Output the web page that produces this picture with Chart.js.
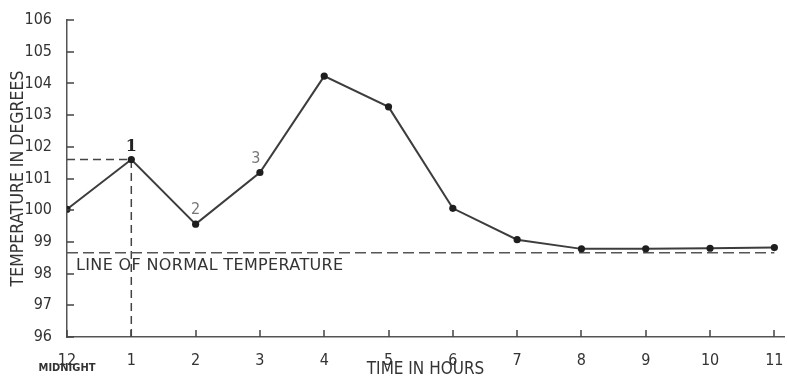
<!DOCTYPE html>
<html><head><meta charset="utf-8">
<script src="https://cdn.jsdelivr.net/npm/chart.js@4"></script>
<style>html,body{margin:0;padding:0;background:#fff}#wrap{position:relative;width:788px;height:377px}</style>
</head><body><div id="wrap"><canvas id="c"></canvas></div>
<script>
const hours = ['12','1','2','3','4','5','6','7','8','9','10','11'];
const temperatures = [100.03, 101.6, 99.56, 101.19, 104.23, 103.26, 100.06, 99.07, 98.78, 98.78, 98.8, 98.82];
const yTicks = [96, 97, 98, 99, 100, 101, 102, 103, 104, 105, 106];
const normalTemperature = 98.66;
const markedHours = [1, 2, 3];
const markedLabels = ['1', '2', '3'];
const xTitle = 'TIME IN HOURS';
const yTitle = 'TEMPERATURE IN DEGREES';
const normalLabel = 'LINE OF NORMAL TEMPERATURE';
const midnightLabel = 'MIDNIGHT';

const INK = '#333';
const FONT = '"DejaVu Sans Condensed", "DejaVu Sans", sans-serif';

const mainData = temperatures.map((v, i) => ({x: i, y: v}));
const normalData = [{x: 0, y: normalTemperature}, {x: hours.length - 1, y: normalTemperature}];
const peakH = markedHours[0];
const guideH = [{x: 0, y: temperatures[peakH]}, {x: peakH, y: temperatures[peakH]}];
const guideV = [{x: peakH, y: yTicks[0]}, {x: peakH, y: temperatures[peakH]}];

const decor = {
  id: 'decor',
  afterDraw(chart) {
    const ctx = chart.ctx;
    const xs = chart.scales.x, ys = chart.scales.y;
    const left = chart.chartArea.left, bottom = chart.chartArea.bottom;
    ctx.save();
    ctx.setLineDash([]);
    // inward y ticks
    ctx.fillStyle = '#444';
    for (let k = 0; k < yTicks.length; k++) {
      const py = Math.round(ys.getPixelForValue(yTicks[k]));
      ctx.fillRect(left, py - 0.75, 7, 1.5);
    }
    // inward x ticks
    for (let i = 0; i < hours.length; i++) {
      const px = Math.round(xs.getPixelForValue(i));
      ctx.fillRect(px - 0.75, bottom - 7, 1.5, 7);
    }
    // MIDNIGHT
    ctx.fillStyle = INK;
    ctx.font = 'bold 11px ' + FONT;
    ctx.textAlign = 'center'; ctx.textBaseline = 'middle';
    ctx.fillText(midnightLabel, xs.getPixelForValue(0), 368);
    // normal line label
    ctx.font = '16px "DejaVu Sans", sans-serif';
    ctx.textAlign = 'left';
    try { ctx.letterSpacing = '0.35px'; } catch (e) {}
    ctx.fillText(normalLabel, left + 9, ys.getPixelForValue(normalTemperature) + 13);
    try { ctx.letterSpacing = '0px'; } catch (e) {}
    // point labels
    markedHours.forEach((h, k) => {
      const px = xs.getPixelForValue(h), py = ys.getPixelForValue(temperatures[h]);
      ctx.textAlign = 'center';
      if (k === 0) {
        ctx.fillStyle = '#222';
        ctx.font = 'bold 16px "DejaVu Serif", serif';
        ctx.fillText(markedLabels[k], px, py - 13);
      } else {
        ctx.fillStyle = '#777';
        ctx.font = '16px ' + FONT;
        ctx.fillText(markedLabels[k], px + (k === 2 ? -4 : 0), py - 14);
      }
    });
    ctx.restore();
  }
};

new Chart(document.getElementById('c'), {
  type: 'line',
  data: {
    datasets: [
      {data: mainData, borderColor: '#3d3d3d', borderWidth: 2, pointRadius: 3.6, pointBackgroundColor: '#1e1e1e', pointBorderWidth: 0, tension: 0},
      {data: normalData, borderColor: '#555', borderWidth: 1.5, borderDash: [11, 5], pointRadius: 0},
      {data: guideH, borderColor: '#444', borderWidth: 1.5, borderDash: [8, 5], pointRadius: 0},
      {data: guideV, borderColor: '#444', borderWidth: 1.5, borderDash: [8, 5], pointRadius: 0}
    ]
  },
  options: {
    responsive: true, maintainAspectRatio: false, animation: false,
    layout: {padding: {top: 20, right: 0, left: 0, bottom: 0}},
    plugins: {legend: {display: false}, tooltip: {enabled: false}},
    scales: {
      x: {
        type: 'linear', min: 0, max: 11.15,
        afterBuildTicks: s => { s.ticks = hours.map((_, i) => ({value: i})); },
        afterFit: s => { s.height = 40; s.paddingLeft = 0; s.paddingRight = 0; },
        grid: {display: false},
        border: {display: true, color: '#555', width: 1.5},
        ticks: {autoSkip: false, maxRotation: 0, padding: 6, color: INK, font: {family: FONT, size: 16},
                callback: v => hours[v]},
        title: {display: true, text: xTitle, color: INK, font: {family: FONT, size: 17, lineHeight: 1}, padding: {top: 0, bottom: -1}}
      },
      y: {
        min: yTicks[0], max: yTicks[yTicks.length - 1],
        afterBuildTicks: s => { s.ticks = yTicks.map(v => ({value: v})); },
        afterFit: s => { s.width = 67; },
        grid: {display: false},
        border: {display: true, color: '#555', width: 1.5},
        ticks: {padding: 7, color: INK, font: {family: FONT, size: 16}},
        title: {display: true, text: yTitle, color: INK, font: {family: FONT, size: 17.5, lineHeight: 1}, padding: {top: 10, bottom: 0}}
      }
    }
  },
  plugins: [decor]
});
</script>
</body></html>
